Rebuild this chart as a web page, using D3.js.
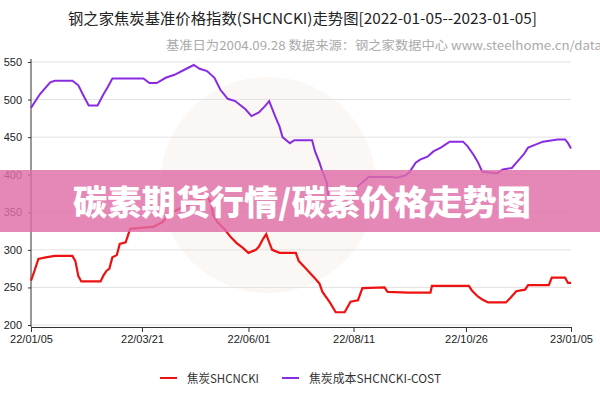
<!DOCTYPE html>
<html>
<head>
<meta charset="utf-8">
<script src="https://cdn.jsdelivr.net/npm/d3@7"></script>
<style>
  body { margin: 0; background: #fff; }
  text { font-family: "Liberation Sans", Arial, sans-serif; }
</style>
</head>
<body>
<div id="okvir"></div>
<script>
// SHCNCKI (red)
var cokeDates = ["2022-01-05","2022-01-07","2022-01-10","2022-01-15","2022-01-18","2022-01-21","2022-02-02","2022-02-04","2022-02-06","2022-02-08","2022-02-21","2022-02-23","2022-02-25","2022-02-27","2022-03-01","2022-03-04","2022-03-06","2022-03-10","2022-03-13","2022-03-29","2022-04-04","2022-04-09","2022-04-18","2022-04-29","2022-05-04","2022-05-07","2022-05-08","2022-05-11","2022-05-16","2022-05-20","2022-05-24","2022-05-28","2022-06-01","2022-06-06","2022-06-08","2022-06-11","2022-06-13","2022-06-15","2022-06-17","2022-06-22","2022-07-03","2022-07-05","2022-07-09","2022-07-16","2022-07-19","2022-07-21","2022-07-26","2022-07-30","2022-08-05","2022-08-09","2022-08-14","2022-08-17","2022-09-01","2022-09-03","2022-09-17","2022-10-02","2022-10-03","2022-10-28","2022-10-30","2022-11-03","2022-11-06","2022-11-10","2022-11-22","2022-11-25","2022-11-29","2022-12-02","2022-12-05","2022-12-07","2022-12-21","2022-12-23","2023-01-01","2023-01-03","2023-01-05"];
var cokeValues = [259,270,288,290,291,292,292,285,265,258,258,266,272,275,290,293,308,310,328,331,337,349,357,367,372,360,347,337,327,317,309,303,296,300,304,315,321,310,300,296,296,285,277,262,255,244,230,217,217,231,233,249,250,244,243,243,252,252,246,238,234,230,230,236,245,246,247,253,253,263,263,256,256];

// SHCNCKI-COST (purple)
var costDates = ["2022-01-05","2022-01-08","2022-01-11","2022-01-14","2022-01-18","2022-01-21","2022-02-02","2022-02-06","2022-02-09","2022-02-13","2022-02-19","2022-02-23","2022-02-26","2022-03-01","2022-03-22","2022-03-26","2022-03-31","2022-04-06","2022-04-12","2022-04-19","2022-04-25","2022-04-29","2022-05-04","2022-05-09","2022-05-13","2022-05-18","2022-05-23","2022-05-30","2022-06-03","2022-06-08","2022-06-12","2022-06-15","2022-06-19","2022-06-22","2022-06-24","2022-06-29","2022-07-02","2022-07-14","2022-07-16","2022-07-19","2022-07-21","2022-07-24","2022-07-25","2022-07-30","2022-08-05","2022-08-10","2022-08-14","2022-08-19","2022-08-21","2022-09-05","2022-09-09","2022-09-15","2022-09-18","2022-09-22","2022-09-25","2022-09-30","2022-10-04","2022-10-09","2022-10-15","2022-10-24","2022-10-27","2022-10-31","2022-11-03","2022-11-06","2022-11-16","2022-11-20","2022-11-26","2022-11-30","2022-12-04","2022-12-07","2022-12-12","2022-12-17","2022-12-27","2023-01-01","2023-01-03","2023-01-05"];
var costValues = [489,498,507,514,523,525,525,519,507,492,492,507,517,528,528,522,522,529,533,540,546,541,538,529,513,501,498,487,478,483,491,498,478,464,450,442,446,446,431,416,404,389,371,358,355,365,385,393,397,397,396,399,404,416,420,424,431,436,444,444,438,427,417,404,402,407,409,418,427,436,440,444,447,447,442,435];

var tickDates = ["2022-01-05","2022-03-21","2022-06-01","2022-08-11","2022-10-26","2023-01-05"];
var yTicks = [200,250,300,350,400,450,500,550];
var seriesNames = ["焦炭SHCNCKI","焦炭成本SHCNCKI-COST"];
var seriesColors = ["#ee1111","#8a2be2"];

var width = 600, height = 400;
var margin = { top: 62, right: 29, bottom: 73, left: 31 };
var parse = d3.utcParse("%Y-%m-%d");
var fmt = d3.utcFormat("%y/%m/%d");

var svg = d3.select("#okvir").append("svg")
    .attr("width", width)
    .attr("height", height);

// vodeni zig u pozadini
svg.append("circle")
    .attr("cx", 268).attr("cy", 185).attr("r", 108)
    .attr("fill", "#f6f1ed").attr("opacity", 0.6);

var x = d3.scaleUtc()
    .domain([parse(tickDates[0]), parse(tickDates[tickDates.length - 1])])
    .range([margin.left, width - margin.right]);

var y = d3.scaleLinear()
    .domain([200, 550])
    .range([325, margin.top]);

// grid
svg.append("g")
    .selectAll("line")
    .data(yTicks)
    .enter()
    .append("line")
    .attr("x1", margin.left).attr("x2", width - margin.right)
    .attr("y1", d => y(d)).attr("y2", d => y(d))
    .attr("stroke", "#e2e2e2");

// y axis
var yAxis = svg.append("g")
    .attr("transform", "translate(" + margin.left + ",0)")
    .call(d3.axisLeft(y).tickValues(yTicks).tickSize(3).tickPadding(6));
yAxis.select(".domain").remove();
yAxis.selectAll("text").style("font-size", "11px").attr("fill", "#222");
yAxis.selectAll("line").attr("stroke", "#333");
svg.append("line")
    .attr("x1", margin.left).attr("x2", margin.left)
    .attr("y1", 59).attr("y2", 327)
    .attr("stroke", "#333");

// x axis
var xAxis = svg.append("g")
    .attr("transform", "translate(0,327)")
    .call(d3.axisBottom(x).tickValues(tickDates.map(parse)).tickFormat(fmt).tickSize(5).tickSizeOuter(0).tickPadding(3));
xAxis.select(".domain").attr("stroke", "#333");
xAxis.selectAll("line").attr("stroke", "#333");
xAxis.selectAll("text").style("font-size", "11px").attr("fill", "#222");

// lines
var line = d3.line()
    .x(d => x(d.date))
    .y(d => y(d.value));

var cokeData = cokeDates.map((d, i) => ({ date: parse(d), value: cokeValues[i] }));
var costData = costDates.map((d, i) => ({ date: parse(d), value: costValues[i] }));

svg.append("path")
    .datum(cokeData)
    .attr("fill", "none")
    .attr("stroke", seriesColors[0])
    .attr("stroke-width", 2.2)
    .attr("d", line);

svg.append("path")
    .datum(costData)
    .attr("fill", "none")
    .attr("stroke", seriesColors[1])
    .attr("stroke-width", 2)
    .attr("d", line);

// title
svg.append("text")
    .attr("x", 68).attr("y", 24)
    .attr("textLength", 469)
    .attr("lengthAdjust", "spacingAndGlyphs")
    .style("font-family", "'Noto Sans CJK SC', sans-serif")
    .style("font-size", "15px")
    .attr("fill", "#222")
    .text("钢之家焦炭基准价格指数(SHCNCKI)走势图[2022-01-05--2023-01-05]");

svg.append("text")
    .attr("x", 166).attr("y", 50)
    .attr("textLength", 436)
    .attr("lengthAdjust", "spacingAndGlyphs")
    .style("font-family", "'Noto Sans CJK SC', sans-serif")
    .style("font-size", "12px")
    .attr("fill", "#aaa")
    .text("基准日为2004.09.28  数据来源：钢之家数据中心 www.steelhome.cn/data");

// legend
var legendX = [160, 282];
var legendW = [72, 132];
seriesNames.forEach(function (name, i) {
    svg.append("line")
        .attr("x1", legendX[i]).attr("x2", legendX[i] + 17)
        .attr("y1", 378).attr("y2", 378)
        .attr("stroke", seriesColors[i])
        .attr("stroke-width", 2);
    svg.append("text")
        .attr("x", legendX[i] + 27).attr("y", 383)
        .attr("textLength", legendW[i])
        .attr("lengthAdjust", "spacingAndGlyphs")
        .style("font-family", "'Noto Sans CJK SC', sans-serif")
        .style("font-size", "12px")
        .attr("fill", "#333")
        .text(name);
});

// banner
svg.append("rect")
    .attr("x", 0).attr("y", 170)
    .attr("width", width).attr("height", 62)
    .attr("fill", "rgb(223,110,167)")
    .attr("opacity", 0.82);

svg.append("text")
    .attr("x", 302).attr("y", 215)
    .attr("text-anchor", "middle")
    .attr("textLength", 458)
    .attr("lengthAdjust", "spacingAndGlyphs")
    .style("font-family", "'Noto Sans CJK SC', sans-serif")
    .style("font-size", "34px")
    .style("font-weight", "900")
    .attr("fill", "#fff")
    .text("碳素期货行情/碳素价格走势图");
</script>
</body>
</html>
